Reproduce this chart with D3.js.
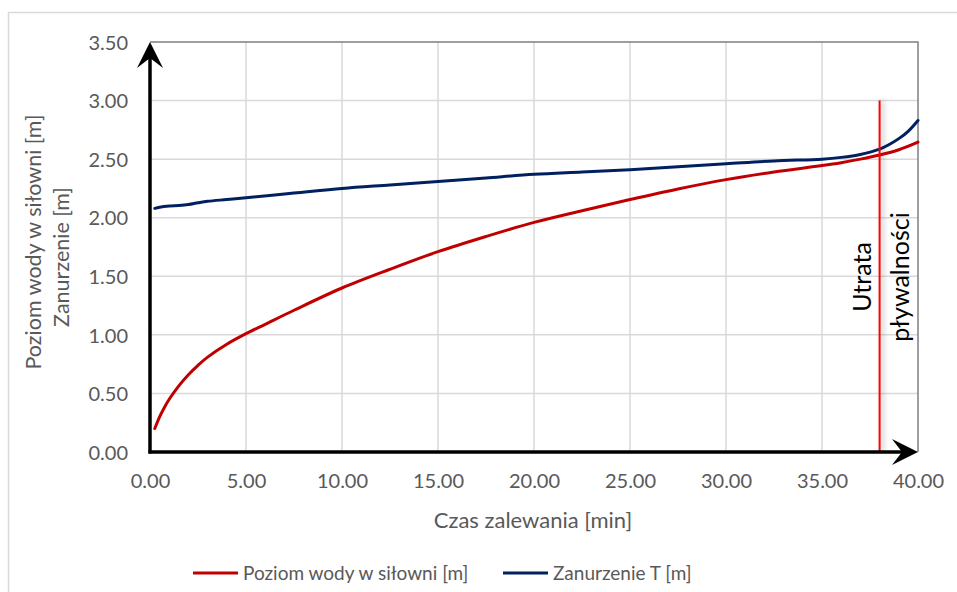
<!DOCTYPE html>
<html><head><meta charset="utf-8">
<script src="https://cdn.jsdelivr.net/npm/d3@7"></script>
<style>body{margin:0;background:#fff;} text{font-family:Lato,"Open Sans",sans-serif;}</style>
</head><body><svg id="c" width="957" height="592"></svg>
<script>
const timeRed = [0.25,0.5,0.75,1,1.5,2,2.5,3,4,5,6,7.5,10,12.5,15,17.5,20,22.5,25,27.5,30,32.5,35,36,37,38,39,40];
const poziomWody = [0.20,0.30,0.38,0.45,0.565,0.66,0.74,0.81,0.92,1.01,1.09,1.21,1.40,1.56,1.71,1.84,1.96,2.06,2.155,2.245,2.325,2.39,2.445,2.47,2.50,2.535,2.58,2.645];
const timeBlue = [0.25,0.5,1,1.5,2,2.5,3,4,5,7.5,10,12.5,15,17.5,20,22.5,25,27.5,30,32.5,35,36,37,38,38.5,39,39.5,40];
const zanurzenie = [2.08,2.09,2.10,2.104,2.112,2.127,2.14,2.155,2.17,2.21,2.25,2.28,2.31,2.34,2.37,2.39,2.41,2.435,2.46,2.485,2.50,2.515,2.54,2.585,2.625,2.675,2.74,2.83];
const xTicks = [0,5,10,15,20,25,30,35,40];
const yTicks = [0,0.5,1,1.5,2,2.5,3,3.5];
const markerTime = 38;
const markerTop = 3.0;
const seriesNames = ["Poziom wody w siłowni [m]","Zanurzenie T [m]"];
const colors = ["#C00000","#002060"];

const svg = d3.select("#c");
const x = d3.scaleLinear().domain([0,40]).range([150,918]);
const y = d3.scaleLinear().domain([0,3.5]).range([452,42]);

// outer border
svg.append("rect").attr("x",8.5).attr("y",12.5).attr("width",960).attr("height",600)
  .attr("fill","none").attr("stroke","#d9d9d9").attr("stroke-width",1.5);

const defs = svg.append("defs");
defs.append("filter").attr("id","blur").attr("filterUnits","userSpaceOnUse")
  .attr("x",800).attr("y",60).attr("width",150).attr("height",420)
  .append("feGaussianBlur").attr("stdDeviation",2.5);

// gridlines
svg.append("g").selectAll("line").data(yTicks.slice(1,-1)).join("line")
  .attr("x1",x(0)).attr("x2",x(40)).attr("y1",d=>y(d)).attr("y2",d=>y(d))
  .attr("stroke","#d9d9d9").attr("stroke-width",1.5);
svg.append("g").selectAll("line").data(xTicks.slice(1,-1)).join("line")
  .attr("y1",y(0)).attr("y2",y(3.5)).attr("x1",d=>x(d)).attr("x2",d=>x(d))
  .attr("stroke","#d9d9d9").attr("stroke-width",1.5);
// plot frame top/right
svg.append("path").attr("d",`M${x(0)},${y(3.5)}H${x(40)}V${y(0)}`)
  .attr("fill","none").attr("stroke","#808080").attr("stroke-width",1.5);

// tick labels via axes
const yAxis = d3.axisLeft(y).tickValues(yTicks).tickFormat(d3.format(".2f")).tickSize(0).tickPadding(22);
const gy = svg.append("g").attr("transform",`translate(${x(0)},0)`).call(yAxis);
const xAxis = d3.axisBottom(x).tickValues(xTicks).tickFormat(d3.format(".2f")).tickSize(0).tickPadding(22);
const gx = svg.append("g").attr("transform",`translate(0,${y(0)})`).call(xAxis);
[gx,gy].forEach(g=>{g.select(".domain").remove();
  g.selectAll("text").attr("font-size",20).attr("fill","#595959").attr("font-family","Lato");});
gy.selectAll("text").attr("dy","0.36em");

// marker shadow
svg.append("line").attr("x1",x(markerTime)+3).attr("x2",x(markerTime)+3).attr("y1",y(markerTop)).attr("y2",y(0))
  .attr("stroke","#000").attr("stroke-opacity",0.3).attr("stroke-width",2).attr("filter","url(#blur)");

// lines
const line = d3.line().curve(d3.curveCatmullRom.alpha(0.5));
svg.append("path").attr("d",line(timeRed.map((t,i)=>[x(t),y(poziomWody[i])])))
  .attr("fill","none").attr("stroke",colors[0]).attr("stroke-width",3).attr("stroke-linecap","round");
svg.append("path").attr("d",line(timeBlue.map((t,i)=>[x(t),y(zanurzenie[i])])))
  .attr("fill","none").attr("stroke",colors[1]).attr("stroke-width",3).attr("stroke-linecap","round");

svg.append("line").attr("x1",x(markerTime)).attr("x2",x(markerTime)).attr("y1",y(markerTop)).attr("y2",y(0))
  .attr("stroke","#FF0000").attr("stroke-width",2);

// axis arrows
svg.append("line").attr("x1",x(0)).attr("x2",x(0)).attr("y1",y(0)+1.5).attr("y2",y(3.5)+12)
  .attr("stroke","#000").attr("stroke-width",3.5);
svg.append("line").attr("x1",x(0)-1.5).attr("x2",x(40)-12).attr("y1",y(0)).attr("y2",y(0))
  .attr("stroke","#000").attr("stroke-width",3.5);
const ax=x(0), ay=y(3.5);
svg.append("path").attr("d",`M${ax},${ay}L${ax+13},${ay+26}L${ax},${ay+16}L${ax-13},${ay+26}Z`).attr("fill","#000");
const bx=x(40), by=y(0);
svg.append("path").attr("d",`M${bx},${by}L${bx-26},${by-13}L${bx-16},${by}L${bx-26},${by+13}Z`).attr("fill","#000");

svg.append("text").attr("transform",`translate(871,277) rotate(-90)`).attr("text-anchor","middle")
  .attr("font-size",25).attr("fill","#000").text("Utrata");
svg.append("text").attr("transform",`translate(909,277) rotate(-90)`).attr("text-anchor","middle")
  .attr("font-size",25).attr("fill","#000").text("pływalności");

// axis titles
svg.append("text").attr("x",533).attr("y",528).attr("text-anchor","middle")
  .attr("font-size",22).attr("fill","#595959").text("Czas zalewania [min]");
svg.append("text").attr("transform","translate(41,242) rotate(-90)").attr("text-anchor","middle")
  .attr("font-size",21.5).attr("fill","#595959").text("Poziom wody w siłowni [m]");
svg.append("text").attr("transform","translate(69,257) rotate(-90)").attr("text-anchor","middle")
  .attr("font-size",21.5).attr("fill","#595959").text("Zanurzenie [m]");

// legend
const lg = svg.append("g");
const legX = [193,503];
seriesNames.forEach((n,i)=>{
  lg.append("line").attr("x1",legX[i]).attr("x2",legX[i]+45).attr("y1",573).attr("y2",573)
    .attr("stroke",colors[i]).attr("stroke-width",3);
  lg.append("text").attr("x",legX[i]+50).attr("y",580).attr("font-size",19).attr("fill","#595959").text(n);
});
</script></body></html>
